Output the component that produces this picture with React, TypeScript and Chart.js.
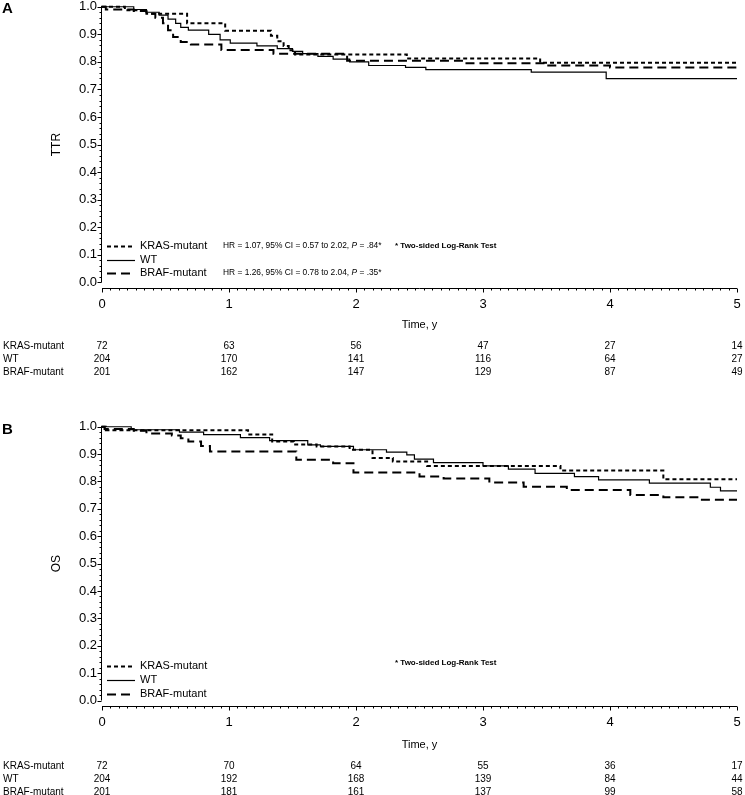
import React, { useEffect, useRef } from 'react';
import { Chart, registerables } from 'chart.js';

Chart.register(...registerables);

// ---------- data ----------
const groups = ['KRAS-mutant', 'WT', 'BRAF-mutant'];
const years = [0, 1, 2, 3, 4, 5];
const yTicks = [0, 0.1, 0.2, 0.3, 0.4, 0.5, 0.6, 0.7, 0.8, 0.9, 1.0];

// Panel A: TTR (time in years, survival probability)
const ttrKrasT = [0, 0.18, 0.35, 0.67, 0.97, 1.33, 1.38, 1.43, 1.47, 1.52, 2.4, 3.45, 5.0];
const ttrKrasS = [1.0, 0.987, 0.975, 0.94, 0.913, 0.895, 0.875, 0.858, 0.842, 0.827, 0.812, 0.797, 0.797];
const ttrWtT = [0, 0.25, 0.35, 0.45, 0.52, 0.58, 0.62, 0.68, 0.84, 0.93, 1.01, 1.22, 1.38, 1.5, 1.58, 1.7, 1.82, 1.95, 2.1, 2.39, 2.55, 3.38, 3.97, 5.0];
const ttrWtS = [1.0, 0.99, 0.98, 0.97, 0.955, 0.94, 0.925, 0.915, 0.9, 0.88, 0.868, 0.858, 0.848, 0.838, 0.83, 0.82, 0.81, 0.8, 0.787, 0.78, 0.772, 0.763, 0.739, 0.739];
const ttrBrafT = [0, 0.03, 0.25, 0.35, 0.42, 0.48, 0.52, 0.56, 0.62, 0.7, 0.94, 1.35, 1.93, 2.85, 3.5, 4.0, 5.0];
const ttrBrafS = [1.0, 0.99, 0.985, 0.975, 0.96, 0.94, 0.915, 0.89, 0.872, 0.863, 0.843, 0.83, 0.804, 0.795, 0.787, 0.78, 0.78];

// Panel B: OS
const osKrasT = [0, 0.03, 1.15, 1.34, 1.51, 1.69, 1.95, 2.13, 2.29, 2.56, 3.61, 4.42, 5.0];
const osKrasS = [1.0, 0.987, 0.972, 0.946, 0.935, 0.928, 0.916, 0.886, 0.873, 0.857, 0.84, 0.808, 0.808];
const osWtT = [0, 0.23, 0.61, 0.8, 1.09, 1.32, 1.62, 1.72, 1.98, 2.24, 2.4, 2.46, 2.61, 3.0, 3.2, 3.41, 3.72, 3.91, 4.31, 4.79, 4.87, 5.0];
const osWtS = [1.0, 0.989, 0.98, 0.971, 0.96, 0.949, 0.934, 0.928, 0.916, 0.907, 0.897, 0.882, 0.869, 0.857, 0.845, 0.83, 0.818, 0.806, 0.794, 0.779, 0.766, 0.766];
const osBrafT = [0, 0.02, 0.25, 0.35, 0.55, 0.62, 0.68, 0.78, 0.85, 1.53, 1.82, 1.98, 2.5, 2.69, 3.05, 3.32, 3.66, 4.16, 4.42, 4.71, 5.0];
const osBrafS = [1.0, 0.992, 0.985, 0.975, 0.968, 0.958, 0.946, 0.93, 0.91, 0.879, 0.867, 0.833, 0.818, 0.811, 0.796, 0.781, 0.769, 0.751, 0.742, 0.733, 0.733];

// Numbers at risk
const ttrRiskKras = [72, 63, 56, 47, 27, 14];
const ttrRiskWt = [204, 170, 141, 116, 64, 27];
const ttrRiskBraf = [201, 162, 147, 129, 87, 49];
const osRiskKras = [72, 70, 64, 55, 36, 17];
const osRiskWt = [204, 192, 168, 139, 84, 44];
const osRiskBraf = [201, 181, 161, 137, 99, 58];

// Hazard ratio annotations (text before italic P, text after)
const ttrHrKras = ['HR = 1.07, 95% CI = 0.57 to 2.02, ', ' = .84*'];
const ttrHrBraf = ['HR = 1.26, 95% CI = 0.78 to 2.04, ', ' = .35*'];
const logRankNote = '* Two-sided Log-Rank Test';
const xTitle = 'Time, y';

// ---------- styling ----------
const FONT = "'Liberation Sans', Arial, Helvetica, sans-serif";
const lineStyles = [
  { dash: [4, 3], width: 2 },
  { dash: [], width: 1.2 },
  { dash: [9, 5], width: 2 },
];

type PanelProps = {
  letter: string;
  yTitle: string;
  curves: { t: number[]; s: number[] }[];
  risk: number[][];
  hr: (string[] | null)[];
  height: number;
  padTop: number;
  xAxisH: number;
  legendY: number[];
  noteY: number;
  timeY: number;
  riskY: number[];
  letterY: number;
};

function Panel(p: PanelProps) {
  const ref = useRef<HTMLCanvasElement>(null);
  useEffect(() => {
    const canvas = ref.current!;
    const overlay = {
      id: 'kmOverlay',
      afterDraw(chart: any) {
        const ctx = chart.ctx as CanvasRenderingContext2D;
        const xs = chart.scales.x;
        const ys = chart.scales.y;
        const area = chart.chartArea;
        ctx.save();
        ctx.strokeStyle = '#000';
        ctx.fillStyle = '#000';
        ctx.lineWidth = 1;
        ctx.setLineDash([]);
        // axes
        const ax = Math.round(area.left) - 0.5;
        const y0 = ys.getPixelForValue(0);
        const y1 = ys.getPixelForValue(1);
        ctx.beginPath();
        ctx.moveTo(ax, y1 - 1);
        ctx.lineTo(ax, y0);
        ctx.stroke();
        const bx = Math.round(area.bottom) + 0.5;
        ctx.beginPath();
        ctx.moveTo(xs.getPixelForValue(0), bx);
        ctx.lineTo(xs.getPixelForValue(5), bx);
        ctx.stroke();
        // y ticks
        for (let k = 0; k <= 50; k++) {
          const v = k / 50;
          const py = Math.round(ys.getPixelForValue(v)) + 0.5;
          const len = k % 5 === 0 ? 4 : 2;
          ctx.beginPath();
          ctx.moveTo(ax, py);
          ctx.lineTo(ax - len, py);
          ctx.stroke();
        }
        // x ticks
        for (let k = 0; k <= 75; k++) {
          const v = k / 15;
          const px = Math.round(xs.getPixelForValue(v)) + 0.5;
          const len = k % 15 === 0 ? 4 : 2;
          ctx.beginPath();
          ctx.moveTo(px, bx);
          ctx.lineTo(px, bx + len);
          ctx.stroke();
        }
        // panel letter
        ctx.textBaseline = 'middle';
        ctx.textAlign = 'left';
        ctx.font = `bold 15px ${FONT}`;
        ctx.fillText(p.letter, 2, p.letterY);
        // y title
        ctx.save();
        ctx.translate(57, (y0 + y1) / 2);
        ctx.rotate(-Math.PI / 2);
        ctx.textAlign = 'center';
        ctx.font = `12px ${FONT}`;
        ctx.fillText(p.yTitle, 0, 0);
        ctx.restore();
        // legend
        groups.forEach((g, i) => {
          const ly = p.legendY[i];
          ctx.save();
          ctx.lineWidth = lineStyles[i].width;
          ctx.setLineDash(lineStyles[i].dash);
          ctx.beginPath();
          ctx.moveTo(107, ly + 0.5);
          ctx.lineTo(135, ly + 0.5);
          ctx.stroke();
          ctx.restore();
          ctx.font = `11px ${FONT}`;
          ctx.textAlign = 'left';
          ctx.fillText(g, 140, ly);
          const h = p.hr[i];
          if (h) {
            ctx.font = `8.4px ${FONT}`;
            let x = 223;
            ctx.fillText(h[0], x, ly);
            x += ctx.measureText(h[0]).width;
            ctx.font = `italic 8.4px ${FONT}`;
            ctx.fillText('P', x, ly);
            x += ctx.measureText('P').width;
            ctx.font = `8.4px ${FONT}`;
            ctx.fillText(h[1], x, ly);
          }
        });
        ctx.font = `bold 8px ${FONT}`;
        ctx.fillText(logRankNote, 395, p.noteY);
        // x title
        ctx.font = `11px ${FONT}`;
        ctx.textAlign = 'center';
        ctx.fillText(xTitle, (xs.getPixelForValue(0) + xs.getPixelForValue(5)) / 2, p.timeY);
        // risk table
        ctx.font = `10px ${FONT}`;
        groups.forEach((g, i) => {
          const ry = p.riskY[i];
          ctx.textAlign = 'left';
          ctx.fillText(g, 3, ry);
          ctx.textAlign = 'center';
          p.risk[i].forEach((n, j) => {
            ctx.fillText(String(n), xs.getPixelForValue(years[j]), ry);
          });
        });
        ctx.restore();
      },
    };

    const chart = new Chart(canvas, {
      type: 'line',
      data: {
        datasets: p.curves.map((c, i) => ({
          label: groups[i],
          data: c.t.map((x, k) => ({ x, y: c.s[k] })),
          borderColor: '#000',
          borderWidth: lineStyles[i].width,
          borderDash: lineStyles[i].dash,
          stepped: 'before' as const,
          pointRadius: 0,
          fill: false,
          tension: 0,
        })),
      },
      options: {
        animation: false,
        responsive: false,
        maintainAspectRatio: false,
        devicePixelRatio: 1,
        layout: { padding: { top: p.padTop, right: 8, left: 0, bottom: 0 } },
        plugins: { legend: { display: false }, tooltip: { enabled: false } },
        scales: {
          x: {
            type: 'linear',
            min: 0,
            max: 5,
            afterBuildTicks: (s: any) => {
              s.ticks = years.map((v) => ({ value: v }));
            },
            ticks: {
              color: '#000',
              font: { family: FONT, size: 13 },
              padding: 9,
              maxRotation: 0,
              autoSkip: false,
              callback: (v: any) => String(v),
            },
            grid: { display: false, drawTicks: false },
            border: { display: false },
            afterFit: (s: any) => {
              s.height = p.xAxisH;
              s.paddingLeft = 0;
              s.paddingRight = 0;
            },
          },
          y: {
            type: 'linear',
            min: -0.02,
            max: 1.01,
            afterBuildTicks: (s: any) => {
              s.ticks = yTicks.map((v) => ({ value: v }));
            },
            ticks: {
              color: '#000',
              font: { family: FONT, size: 13 },
              padding: 5,
              callback: (v: any) => Number(v).toFixed(1),
            },
            grid: { display: false, drawTicks: false },
            border: { display: false },
            afterFit: (s: any) => {
              s.width = 102;
              s.paddingTop = 0;
              s.paddingBottom = 0;
            },
          },
        },
      },
      plugins: [overlay],
    } as any);
    return () => chart.destroy();
  }, []);
  return (
    <canvas
      ref={ref}
      width={745}
      height={p.height}
      style={{ display: 'block', width: 745, height: p.height }}
    />
  );
}

export default function App() {
  return (
    <div style={{ position: 'absolute', left: 0, top: 0, width: 745, height: 795, background: '#fff' }}>
      <Panel
        letter="A"
        yTitle="TTR"
        curves={[
          { t: ttrKrasT, s: ttrKrasS },
          { t: ttrWtT, s: ttrWtS },
          { t: ttrBrafT, s: ttrBrafS },
        ]}
        risk={[ttrRiskKras, ttrRiskWt, ttrRiskBraf]}
        hr={[ttrHrKras, null, ttrHrBraf]}
        height={385}
        padTop={4}
        xAxisH={97}
        legendY={[246, 260, 273]}
        noteY={246}
        timeY={325}
        riskY={[346, 359, 372]}
        letterY={9}
      />
      <Panel
        letter="B"
        yTitle="OS"
        curves={[
          { t: osKrasT, s: osKrasS },
          { t: osWtT, s: osWtS },
          { t: osBrafT, s: osBrafS },
        ]}
        risk={[osRiskKras, osRiskWt, osRiskBraf]}
        hr={[null, null, null]}
        height={410}
        padTop={39}
        xAxisH={89}
        legendY={[281, 295, 309]}
        noteY={278}
        timeY={360}
        riskY={[381, 394, 407]}
        letterY={45}
      />
    </div>
  );
}
